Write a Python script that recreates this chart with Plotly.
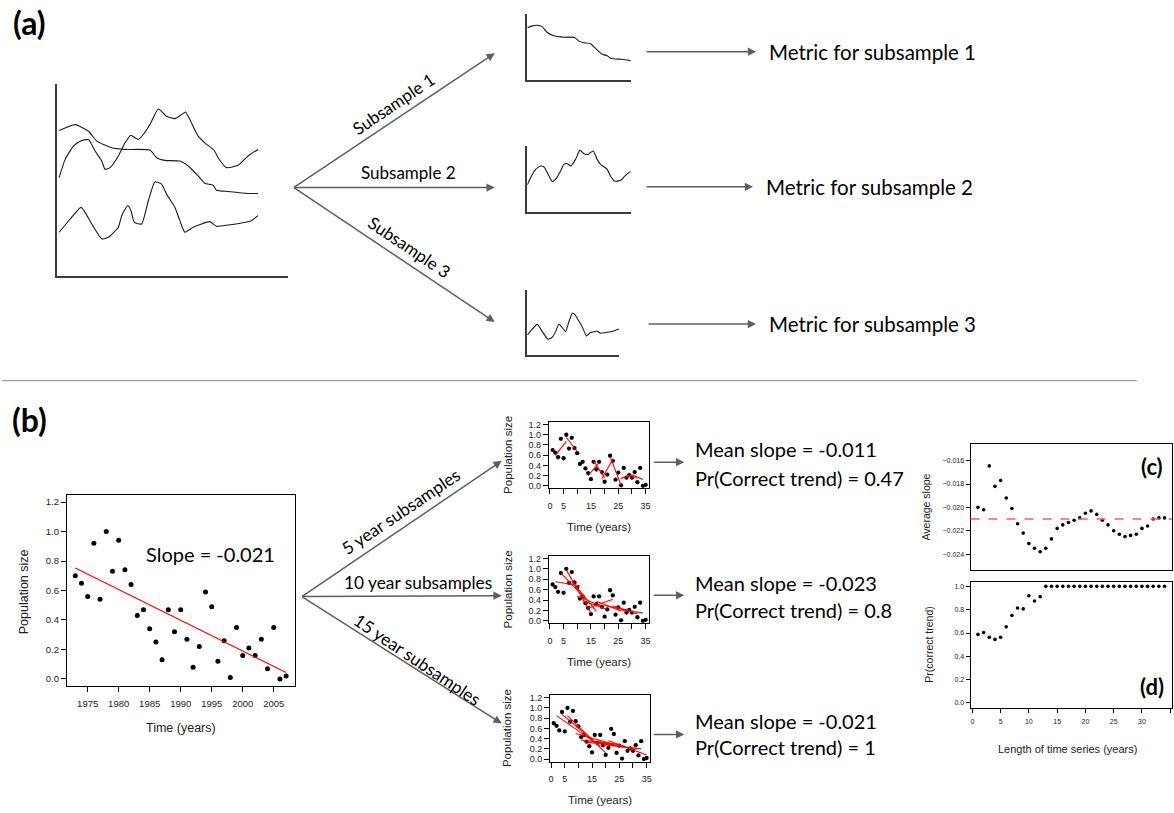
import numpy as np
import plotly.graph_objects as go

W, H = 1174, 813
CAL = "Lato"
HEL = "Liberation Sans"

# ---------------- data ----------------
years = list(range(1973, 2008))
pop = [0.70, 0.65, 0.56, 0.92, 0.54, 1.00, 0.73, 0.94, 0.74, 0.64, 0.43, 0.47,
       0.34, 0.25, 0.13, 0.47, 0.32, 0.47, 0.27, 0.08, 0.22, 0.59, 0.49, 0.12,
       0.26, 0.01, 0.35, 0.16, 0.21, 0.16, 0.27, 0.07, 0.35, 0.00, 0.02]
t_index = list(range(1, 36))

win5_starts = [2, 6, 14, 16, 19, 22, 26, 28, 30]
win10_starts = [2, 4, 6, 8, 10, 12, 14, 17, 20, 23, 25]
win15_starts = [2, 4, 6, 9, 11, 13, 15, 17, 19, 21]

ts_length = list(range(1, 35))
avg_slope = [-0.0200, -0.0202, -0.01645, -0.0182, -0.0177, -0.0192, -0.0201,
             -0.0214, -0.0222, -0.0231, -0.0235, -0.0238, -0.0235, -0.0227,
             -0.0218, -0.0215, -0.0213, -0.0211, -0.0209, -0.0205, -0.0203,
             -0.0206, -0.0211, -0.0215, -0.0220, -0.0223, -0.0225, -0.0224,
             -0.0223, -0.0218, -0.0216, -0.0210, -0.0209, -0.0209]
pr_correct = [0.588, 0.605, 0.563, 0.545, 0.563, 0.653, 0.75, 0.815, 0.807,
              0.92, 0.875, 0.912] + [1.0] * 22
overall_slope = -0.021

summary_texts = [("Mean slope = -0.011", "Pr(Correct trend) = 0.47"),
                 ("Mean slope = -0.023", "Pr(Correct trend) = 0.8"),
                 ("Mean slope = -0.021", "Pr(Correct trend) = 1")]
subsample_labels = ["5 year subsamples", "10 year subsamples", "15 year subsamples"]
metric_labels = ["Metric for subsample 1", "Metric for subsample 2", "Metric for subsample 3"]
sketch_labels = ["Subsample 1", "Subsample 2", "Subsample 3"]

# hand-drawn sketch curves of panel (a) (sketch units, y measured downward)
skA_x = [52, 100, 140, 165, 210, 250, 325, 345, 370, 415, 440, 470, 490, 515, 525, 560, 620, 650]
skA_y = [208, 190, 210, 240, 260, 265, 267, 290, 298, 300, 315, 345, 367, 373, 388, 392, 398, 398]
skB_x = [52, 70, 95, 115, 140, 160, 180, 190, 205, 230, 250, 268, 280, 290, 305, 325, 350,
         375, 400, 420, 432, 445, 470, 490, 518, 530, 555, 590, 620, 650]
skB_y = [350, 295, 255, 240, 235, 270, 300, 325, 320, 285, 245, 222, 230, 235, 220, 190, 143,
         165, 172, 160, 152, 175, 225, 245, 268, 290, 320, 313, 285, 265]
skC_x = [52, 85, 118, 150, 180, 200, 230, 240, 258, 268, 278, 300, 320, 340, 360, 375, 400,
         415, 430, 455, 505, 525, 560, 600, 630, 650]
skC_y = [515, 475, 440, 490, 535, 530, 500, 465, 435, 450, 485, 490, 420, 363, 370, 400, 440,
         480, 515, 500, 483, 497, 493, 487, 480, 465]
s1_x = [80, 95, 110, 125, 140, 160, 185, 222, 235, 250, 270, 285, 305, 320, 330, 345, 365, 390]
s1_y = [48, 42, 40, 45, 62, 72, 76, 77, 88, 93, 96, 110, 128, 132, 140, 142, 143, 147]
s2_x = [80, 90, 105, 120, 130, 145, 155, 165, 180, 190, 200, 210, 225, 238, 250, 262, 278,
        290, 300, 320, 330, 342, 355, 365, 375, 390]
s2_y = [462, 440, 415, 405, 408, 435, 452, 445, 420, 400, 398, 405, 385, 357, 368, 370, 360,
        385, 400, 415, 435, 450, 450, 445, 433, 422]
s3_x = [80, 95, 110, 125, 142, 155, 165, 175, 185, 195, 205, 215, 222, 235, 245, 258, 270,
        290, 300, 320, 340, 355]
s3_y = [915, 897, 883, 905, 928, 922, 905, 882, 893, 905, 875, 850, 852, 873, 890, 918, 908,
        904, 910, 907, 903, 897]

# ---------------- helpers ----------------
fig = go.Figure()
annotations = []
shapes = []


def pxx(x):
    return x / W


def pyy(y):
    return 1 - y / H


def names(i):
    if i == 1:
        return "xaxis", "yaxis", "x", "y"
    return f"xaxis{i}", f"yaxis{i}", f"x{i}", f"y{i}"


def set_axes(i, left, right, top, bottom, xa, ya):
    xn, yn, xr, yr = names(i)
    xa = dict(domain=[pxx(left), pxx(right)], anchor=yr, showgrid=False, zeroline=False, **xa)
    ya = dict(domain=[pyy(bottom), pyy(top)], anchor=xr, showgrid=False, zeroline=False, **ya)
    fig.layout[xn] = xa
    fig.layout[yn] = ya
    return xr, yr


def sketch_axes(i, left, right, top, bottom, xrange, yrange):
    common = dict(showline=True, linecolor="#3c3c3c", linewidth=1.5, ticks="",
                  showticklabels=False, fixedrange=True)
    return set_axes(i, left, right, top, bottom,
                    dict(range=xrange, **common), dict(range=yrange, **common))


def r_axis(extra, fsize):
    d = dict(showline=True, mirror=True, linecolor="black", linewidth=1, ticks="outside",
             tickcolor="black", tickwidth=1, tickfont=dict(family=HEL, size=fsize, color="#222"))
    d.update(extra)
    return d


def txt(x, y, s, size, font=CAL, xanchor="center", angle=0, color="black"):
    annotations.append(dict(x=pxx(x), y=pyy(y), xref="paper", yref="paper", text=s,
                            showarrow=False, font=dict(family=font, size=size, color=color),
                            xanchor=xanchor, yanchor="middle", textangle=angle))


def arrow(x0, y0, x1, y1):
    annotations.append(dict(x=pxx(x1), y=pyy(y1), xref="paper", yref="paper",
                            ax=x0 - x1, ay=y0 - y1, axref="pixel", ayref="pixel",
                            showarrow=True, arrowhead=2, arrowsize=1.1, arrowwidth=1.5,
                            arrowcolor="#5f5f5f", text=""))


def window_lines(starts, width):
    xs, ys = [], []
    for s in starts:
        xw = np.array(t_index[s - 1:s - 1 + width], dtype=float)
        yw = np.array(pop[s - 1:s - 1 + width], dtype=float)
        b, a = np.polyfit(xw, yw, 1)
        xs += [xw[0], xw[-1], None]
        ys += [a + b * xw[0], a + b * xw[-1], None]
    return xs, ys


# ---------------- panel (a) sketches ----------------
xr, yr = sketch_axes(1, 55, 287, 83, 276, [45, 741], [648, 69])
for sx, sy in [(skA_x, skA_y), (skB_x, skB_y), (skC_x, skC_y)]:
    fig.add_trace(go.Scatter(x=sx, y=sy, mode="lines", xaxis=xr, yaxis=yr,
                             line=dict(color="#1a1a1a", width=1.1, shape="spline", smoothing=0.5),
                             hoverinfo="skip"))

small_boxes = [(526.7, 630.7, 11.7, 78, [80, 392], [204, 5], s1_x, s1_y),
               (526.7, 630.7, 145, 211.7, [80, 392], [545, 345], s2_x, s2_y),
               (526.7, 619, 290, 355, [80, 357], [975, 780], s3_x, s3_y)]
for k, (l, r, t, b, xrg, yrg, sx, sy) in enumerate(small_boxes):
    xr, yr = sketch_axes(2 + k, l, r, t, b, xrg, yrg)
    fig.add_trace(go.Scatter(x=sx, y=sy, mode="lines", xaxis=xr, yaxis=yr,
                             line=dict(color="#1a1a1a", width=1.1, shape="spline", smoothing=0.5),
                             hoverinfo="skip"))

# ---------------- panel (b) main scatter ----------------
xr, yr = set_axes(5, 65, 293.3, 496, 688.3,
                  r_axis(dict(range=[1971.64, 2008.36], tickvals=[1975, 1980, 1985, 1990, 1995, 2000, 2005],
                              ticklen=5, ticklabelstandoff=4), 9.5),
                  r_axis(dict(range=[-0.048, 1.248], tickvals=[0, 0.2, 0.4, 0.6, 0.8, 1.0, 1.2],
                              tickformat=".1f", ticklen=5), 9.5))
fig.add_trace(go.Scatter(x=years, y=pop, mode="markers", xaxis=xr, yaxis=yr,
                         marker=dict(color="black", size=5), hoverinfo="skip"))
b1, a1 = np.polyfit(years, pop, 1)
fig.add_trace(go.Scatter(x=[years[0], years[-1]], y=[a1 + b1 * years[0], a1 + b1 * years[-1]],
                         mode="lines", xaxis=xr, yaxis=yr, line=dict(color="red", width=1.2),
                         hoverinfo="skip"))

# ---------------- panel (b) small subsample plots ----------------
small_plots = [(548.3, 649, 422.7, 489.3, win5_starts, 5),
               (548.3, 649, 557.5, 625.2, win10_starts, 10),
               (549.5, 650, 697.5, 764.2, win15_starts, 15)]
for k, (l, r, t, b, starts, width) in enumerate(small_plots):
    xr, yr = set_axes(6 + k, l, r, t, b,
                      r_axis(dict(range=[-0.36, 36.36], tickvals=[0, 5, 10, 15, 20, 25, 30, 35],
                                  ticktext=["0", "5", "", "15", "", "25", "", "35"],
                                  ticklen=5, ticklabelstandoff=4), 9),
                      r_axis(dict(range=[-0.048, 1.248], tickvals=[0, 0.2, 0.4, 0.6, 0.8, 1.0, 1.2],
                                  tickformat=".1f", ticklen=5), 9))
    fig.add_trace(go.Scatter(x=t_index, y=pop, mode="markers", xaxis=xr, yaxis=yr,
                             marker=dict(color="black", size=4.3), hoverinfo="skip"))
    wx, wy = window_lines(starts, width)
    fig.add_trace(go.Scatter(x=wx, y=wy, mode="lines", xaxis=xr, yaxis=yr,
                             line=dict(color="red", width=1.1), hoverinfo="skip"))
    txt((l + r) / 2, b + 39, "Time (years)", 11.5, HEL, color="#222")
    txt(507, (t + b) / 2, "Population size", 11.5, HEL, angle=-90, color="#222")

# ---------------- panels (c) and (d) ----------------
xr, yr = set_axes(9, 971, 1173, 445, 572,
                  r_axis(dict(range=[-0.32, 35.32], ticks="", showticklabels=False), 7),
                  r_axis(dict(range=[-0.0254, -0.0146],
                              tickvals=[-0.024, -0.022, -0.020, -0.018, -0.016],
                              tickformat=".3f", ticklen=4), 7))
fig.add_trace(go.Scatter(x=ts_length, y=avg_slope, mode="markers", xaxis=xr, yaxis=yr,
                         marker=dict(color="black", size=3.6), hoverinfo="skip"))
shapes.append(dict(type="line", xref="x9 domain", yref="y9", x0=0, x1=1,
                   y0=overall_slope, y1=overall_slope,
                   line=dict(color="#ff5a5a", width=1.5, dash="dash")))

xr, yr = set_axes(10, 971, 1173, 583.3, 710,
                  r_axis(dict(range=[-0.32, 35.32], tickvals=[0, 5, 10, 15, 20, 25, 30, 35],
                              ticklen=4, ticklabelstandoff=3), 7),
                  r_axis(dict(range=[-0.04, 1.04], tickvals=[0, 0.2, 0.4, 0.6, 0.8, 1.0],
                              tickformat=".1f", ticklen=4), 7))
fig.add_trace(go.Scatter(x=ts_length, y=pr_correct, mode="markers", xaxis=xr, yaxis=yr,
                         marker=dict(color="black", size=3.6), hoverinfo="skip"))

txt(926, 508, "Average slope", 10.5, HEL, angle=-90, color="#222")
txt(929, 647, "Pr(correct trend)", 10.5, HEL, angle=-90, color="#222")
txt(1068, 752, "Length of time series (years)", 11, HEL, color="#222")
txt(1153, 467, "<b>(c)</b>", 22, CAL)
txt(1153, 689, "<b>(d)</b>", 22, CAL)

# ---------------- texts & arrows ----------------
txt(28, 21, "<b>(a)</b>", 32, CAL)
txt(28, 420, "<b>(b)</b>", 32, CAL)

# panel (a) arrows
arrow(291.7, 186.7, 494, 51.5)
arrow(291.7, 186.7, 494, 186.7)
arrow(291.7, 186.7, 494, 322)
txt(393, 102, sketch_labels[0], 17, CAL, angle=-34)
txt(408, 172, sketch_labels[1], 17, CAL)
txt(409, 247, sketch_labels[2], 17, CAL, angle=34)
for yv, lab, x0, x1 in [(50, metric_labels[0], 645, 756),
                        (186, metric_labels[1], 645, 753),
                        (324, metric_labels[2], 647, 756)]:
    arrow(x0, yv, x1, yv)
    txt(x1 + 11, yv, lab, 20.5, CAL, xanchor="left")

# separator
shapes.append(dict(type="line", xref="paper", yref="paper", x0=0, x1=pxx(1138),
                   y0=pyy(381), y1=pyy(381), line=dict(color="#8a8a8a", width=1)))

# main scatter texts
txt(179, 730, "Time (years)", 12.5, HEL, color="#222")
txt(22, 593, "Population size", 12.5, HEL, angle=-90, color="#222")
txt(209, 555, "Slope = -0.021", 20, CAL)

# panel (b) arrows
arrow(300, 598.3, 501, 461.7)
arrow(300, 598.3, 501, 597.3)
arrow(300, 598.3, 501, 726)
txt(400, 513, subsample_labels[0], 17.3, CAL, angle=-34)
txt(417, 584, subsample_labels[1], 17.3, CAL)
txt(416, 662, subsample_labels[2], 17.3, CAL, angle=34)

for (m, p), ya in zip(summary_texts, [(450, 479, 463), (585, 612, 597), (723, 750, 737)]):
    arrow(652, ya[2], 684, ya[2])
    txt(693, ya[0], m, 20, CAL, xanchor="left")
    txt(693, ya[1], p, 20, CAL, xanchor="left")

fig.update_layout(width=W, height=H, margin=dict(l=0, r=0, t=0, b=0),
                  paper_bgcolor="white", plot_bgcolor="white", showlegend=False,
                  annotations=annotations, shapes=shapes)

fig.write_html("out.html", config={"displayModeBar": False},
               post_script="document.body.style.margin='0px';")
